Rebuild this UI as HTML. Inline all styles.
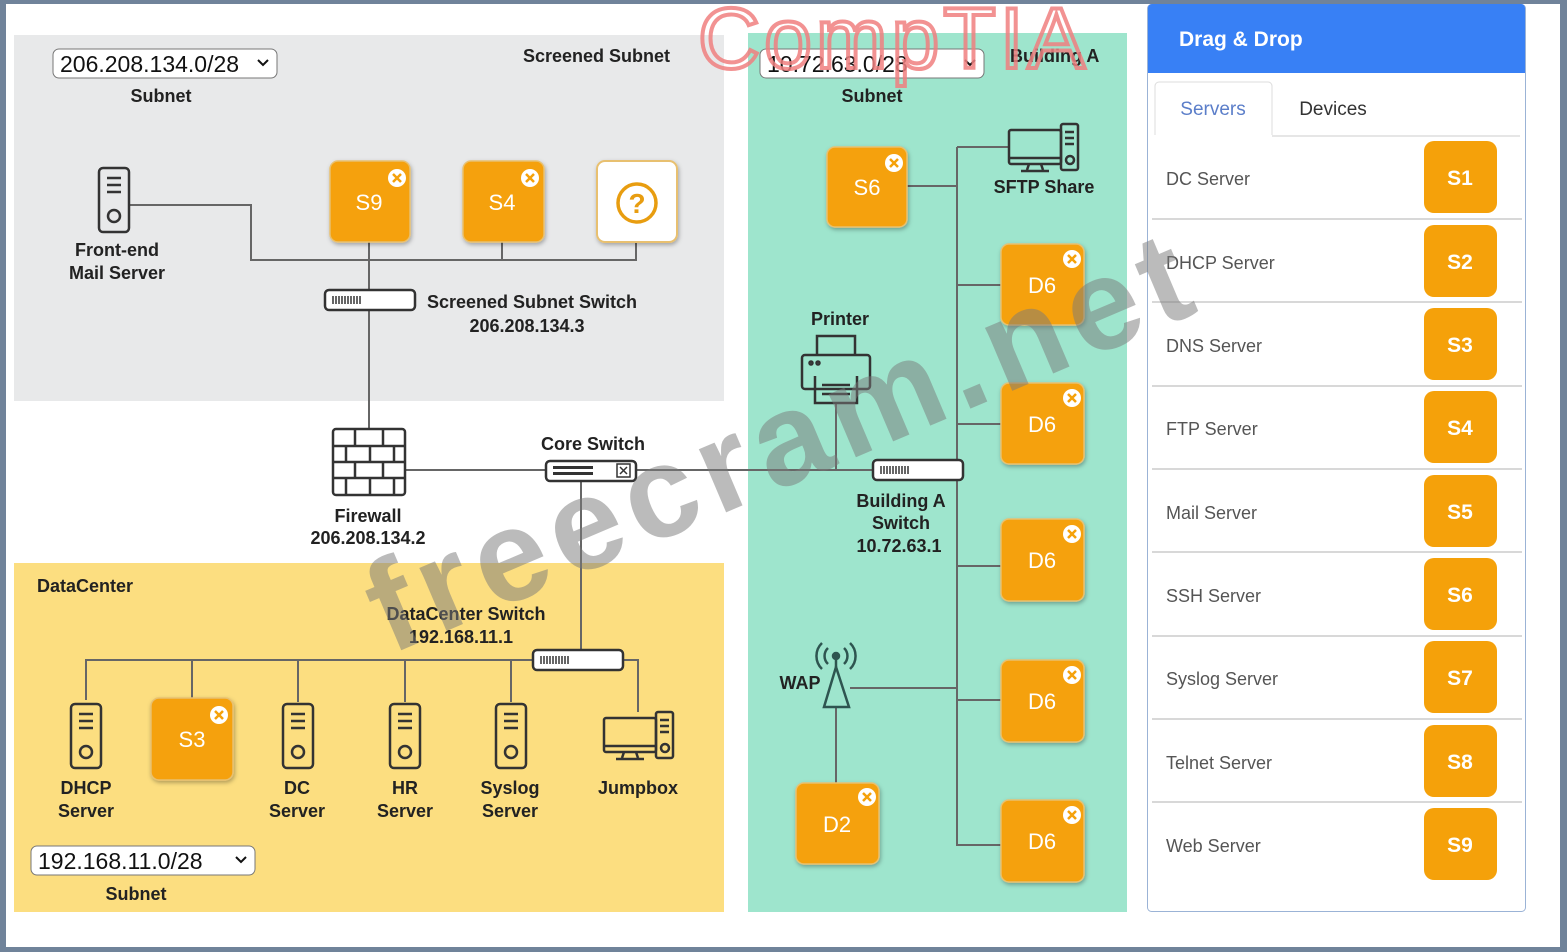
<!DOCTYPE html>
<html><head><meta charset="utf-8"><style>
html,body{margin:0;padding:0;background:#fff}
svg{display:block}
text{font-family:"Liberation Sans",Arial,sans-serif}
.b{font-weight:bold;font-size:18px;fill:#222}
.t{font-size:22px;fill:#fff}
.p{font-size:18px;fill:#555}
</style></head><body>
<svg width="1567" height="952" viewBox="0 0 1567 952" xmlns="http://www.w3.org/2000/svg">
<defs>
<filter id="sh" x="-20%" y="-20%" width="140%" height="140%"><feDropShadow dx="1" dy="2" stdDeviation="2" flood-color="#000" flood-opacity="0.3"/></filter>
<g id="srv" fill="none" stroke="#333" stroke-width="2.5"><rect x="0" y="0" width="30" height="64" rx="4"/><line x1="8" y1="10" x2="22" y2="10"/><line x1="8" y1="17" x2="22" y2="17"/><line x1="8" y1="24" x2="22" y2="24"/><circle cx="15" cy="48" r="6"/></g>
<g id="pc" fill="none" stroke="#333" stroke-width="2.5"><rect x="0" y="6" width="52" height="34" rx="2"/><line x1="0" y1="34" x2="52" y2="34"/><line x1="20" y1="40" x2="18" y2="46"/><line x1="32" y1="40" x2="34" y2="46"/><line x1="12" y1="47" x2="40" y2="47"/><rect x="52" y="0" width="17" height="46" rx="2" fill="inherit"/><line x1="56" y1="8" x2="65" y2="8"/><line x1="56" y1="14" x2="65" y2="14"/><line x1="56" y1="20" x2="65" y2="20"/><circle cx="61" cy="36" r="4"/></g>
<g id="sw"><rect x="0" y="0" width="90" height="20" rx="4" fill="#fff" stroke="#333" stroke-width="2.5"/><g stroke="#333" stroke-width="1.5"><line x1="8" y1="6" x2="8" y2="14"/><line x1="11" y1="6" x2="11" y2="14"/><line x1="14" y1="6" x2="14" y2="14"/><line x1="17" y1="6" x2="17" y2="14"/><line x1="20" y1="6" x2="20" y2="14"/><line x1="23" y1="6" x2="23" y2="14"/><line x1="26" y1="6" x2="26" y2="14"/><line x1="29" y1="6" x2="29" y2="14"/><line x1="32" y1="6" x2="32" y2="14"/><line x1="35" y1="6" x2="35" y2="14"/></g></g>
<g id="x"><circle r="9" fill="#fff"/><path d="M-4,-4L4,4M4,-4L-4,4" stroke="#f5a10a" stroke-width="2.5"/></g>
</defs>
<rect x="0" y="0" width="1567" height="952" fill="#70839a"/>
<rect x="6" y="4" width="1554" height="943" fill="#fff"/>
<rect x="14" y="35" width="710" height="366" fill="#e8e9ea"/>
<rect x="748" y="33" width="379" height="879" fill="#9ee5cd"/>
<rect x="14" y="563" width="710" height="349" fill="#fcde80"/>
<g stroke="#666" stroke-width="2" fill="none">
<path d="M130,205H251V260H636V242"/><path d="M502,242V260"/><path d="M369,242V428"/>
<path d="M405,470H957"/><path d="M581,481V650"/>
<path d="M836,403V470"/>
<path d="M86,700V660H533"/><path d="M192,660V698"/><path d="M298,660V702"/><path d="M405,660V702"/><path d="M511,660V702"/><path d="M624,660H638V712"/>
<path d="M957,147V845H1001"/><path d="M957,147H1008"/><path d="M907,186H957"/><path d="M957,285H1001"/><path d="M957,424H1001"/><path d="M957,566H1001"/><path d="M957,700H1001"/><path d="M850,688H957"/><path d="M836,707V783"/>
</g>
<rect x="53" y="49" width="224" height="29" rx="6" fill="#fff" stroke="#777"/>
<text x="60" y="72" font-size="23" fill="#111">206.208.134.0/28</text><path d="M258,60l5,5l5,-5" stroke="#111" stroke-width="2" fill="none"/>
<rect x="760" y="49" width="224" height="29" rx="6" fill="#fff" stroke="#777"/>
<text x="767" y="72" font-size="23" fill="#111">10.72.63.0/28</text><path d="M965,60l5,5l5,-5" stroke="#111" stroke-width="2" fill="none"/>
<rect x="31" y="846" width="224" height="29" rx="6" fill="#fff" stroke="#777"/>
<text x="38" y="869" font-size="23" fill="#111">192.168.11.0/28</text><path d="M236,857l5,5l5,-5" stroke="#111" stroke-width="2" fill="none"/>
<text class="b" x="161" y="102" text-anchor="middle">Subnet</text>
<text class="b" x="872" y="102" text-anchor="middle">Subnet</text>
<text class="b" x="136" y="900" text-anchor="middle">Subnet</text>
<text class="b" x="523" y="62" font-size="21">Screened Subnet</text>
<text class="b" x="1010" y="62" font-size="21">Building A</text>
<text class="b" x="37" y="592" font-size="20">DataCenter</text>
<text class="b" x="117" y="256" text-anchor="middle">Front-end</text><text class="b" x="117" y="279" text-anchor="middle">Mail Server</text>
<text class="b" x="427" y="308">Screened Subnet Switch</text><text class="b" x="527" y="332" text-anchor="middle">206.208.134.3</text>
<text class="b" x="368" y="522" text-anchor="middle">Firewall</text><text class="b" x="368" y="544" text-anchor="middle">206.208.134.2</text>
<text class="b" x="593" y="450" text-anchor="middle">Core Switch</text>
<text class="b" x="901" y="507" text-anchor="middle">Building A</text><text class="b" x="901" y="529" text-anchor="middle">Switch</text><text class="b" x="899" y="552" text-anchor="middle">10.72.63.1</text>
<text class="b" x="466" y="620" text-anchor="middle">DataCenter Switch</text><text class="b" x="461" y="643" text-anchor="middle">192.168.11.1</text>
<text class="b" x="1044" y="193" text-anchor="middle">SFTP Share</text>
<text class="b" x="840" y="325" text-anchor="middle">Printer</text>
<text class="b" x="800" y="689" text-anchor="middle">WAP</text>
<text class="b" x="86" y="794" text-anchor="middle">DHCP</text><text class="b" x="86" y="817" text-anchor="middle">Server</text>
<text class="b" x="297" y="794" text-anchor="middle">DC</text><text class="b" x="297" y="817" text-anchor="middle">Server</text>
<text class="b" x="405" y="794" text-anchor="middle">HR</text><text class="b" x="405" y="817" text-anchor="middle">Server</text>
<text class="b" x="510" y="794" text-anchor="middle">Syslog</text><text class="b" x="510" y="817" text-anchor="middle">Server</text>
<text class="b" x="638" y="794" text-anchor="middle">Jumpbox</text>
<use href="#srv" x="99" y="168"/>
<use href="#srv" x="71" y="704"/><use href="#srv" x="283" y="704"/><use href="#srv" x="390" y="704"/><use href="#srv" x="496" y="704"/>
<use href="#pc" x="604" y="712" fill="#fcde80"/>
<use href="#pc" x="1009" y="124" fill="#9ee5cd"/>
<use href="#sw" x="325" y="290"/><use href="#sw" x="533" y="650"/><use href="#sw" x="873" y="460"/>
<g><rect x="546" y="461" width="90" height="20" rx="4" fill="#fff" stroke="#333" stroke-width="2.5"/><g fill="#333"><rect x="553" y="466" width="40" height="3"/><rect x="553" y="472" width="40" height="3"/></g><rect x="617" y="464" width="13" height="13" fill="none" stroke="#333" stroke-width="1.5"/><path d="M620,467l7,7M627,467l-7,7" stroke="#333" stroke-width="1.5"/></g>
<g fill="#fff" stroke="#333" stroke-width="2.5"><rect x="333" y="429" width="72" height="66" rx="3"/><path d="M333,446H405M333,462H405M333,478H405M355,429V446M383,429V446M346,446V462M370,446V462M394,446V462M355,462V478M383,462V478M346,478V495M370,478V495M394,478V495" fill="none"/></g>
<g fill="none" stroke="#333" stroke-width="2.5"><rect x="802" y="355" width="68" height="34" rx="3"/><path d="M817,355V336H855V355M815,376V403H857V376M822,385H850M822,394H850"/><circle cx="811" cy="363" r="1.5"/><circle cx="818" cy="363" r="1.5"/></g>
<g fill="none" stroke="#2e5550" stroke-width="2.5"><path d="M836,667L824,707H849Z"/><line x1="836" y1="660" x2="836" y2="667"/><circle cx="836" cy="656" r="3" fill="#2e5550"/><path d="M828,648a11,11 0 0,0 0,16M844,648a11,11 0 0,1 0,16M822,643a18,18 0 0,0 0,26M850,643a18,18 0 0,1 0,26"/></g>
<g filter="url(#sh)" fill="#f5a10a" stroke="#e8c070" stroke-width="1.5">
<rect x="330" y="161" width="80" height="81" rx="8"/><rect x="463" y="161" width="81" height="81" rx="8"/>
<rect x="827" y="147" width="80" height="80" rx="8"/>
<rect x="1001" y="244" width="83" height="81" rx="8"/><rect x="1001" y="383" width="83" height="81" rx="8"/><rect x="1001" y="519" width="83" height="82" rx="8"/><rect x="1001" y="660" width="83" height="82" rx="8"/><rect x="1001" y="800" width="83" height="82" rx="8"/>
<rect x="796" y="783" width="83" height="81" rx="8"/><rect x="151" y="698" width="82" height="82" rx="8"/>
<rect x="597" y="161" width="80" height="81" rx="8" fill="#fff" stroke="#e8c070" stroke-width="2"/>
</g>
<circle cx="637" cy="203" r="19" fill="none" stroke="#e89d10" stroke-width="3.5"/><text x="637" y="213" font-size="28" font-weight="bold" fill="#e89d10" text-anchor="middle">?</text>
<g>
<text class="t" x="369" y="210" text-anchor="middle">S9</text><text class="t" x="502" y="210" text-anchor="middle">S4</text>
<text class="t" x="867" y="195" text-anchor="middle">S6</text>
<text class="t" x="1042" y="293" text-anchor="middle">D6</text><text class="t" x="1042" y="432" text-anchor="middle">D6</text><text class="t" x="1042" y="568" text-anchor="middle">D6</text><text class="t" x="1042" y="709" text-anchor="middle">D6</text><text class="t" x="1042" y="849" text-anchor="middle">D6</text>
<text class="t" x="837" y="832" text-anchor="middle">D2</text><text class="t" x="192" y="747" text-anchor="middle">S3</text>
</g>
<use href="#x" x="397" y="178"/><use href="#x" x="530" y="178"/><use href="#x" x="894" y="163"/>
<use href="#x" x="1072" y="259"/><use href="#x" x="1072" y="398"/><use href="#x" x="1072" y="534"/><use href="#x" x="1072" y="675"/><use href="#x" x="1072" y="815"/>
<use href="#x" x="867" y="797"/><use href="#x" x="219" y="715"/>
<rect x="1147.5" y="4.5" width="378" height="907" rx="4" fill="#fff" stroke="#9bb3d6"/>
<path d="M1148,8a4,4 0 0,1 4,-4H1521a4,4 0 0,1 4,4V73H1148Z" fill="#3880f5"/>
<text x="1179" y="46" font-size="21" font-weight="bold" fill="#fff">Drag &amp; Drop</text>
<path d="M1155,135V86a4,4 0 0,1 4,-4H1268a4,4 0 0,1 4,4V135" fill="#fff" stroke="#ddd"/>
<line x1="1272" y1="136" x2="1520" y2="136" stroke="#ddd" stroke-width="1.5"/>
<text x="1213" y="115" font-size="19" fill="#5b7ec9" text-anchor="middle">Servers</text>
<text x="1333" y="115" font-size="19" fill="#333" text-anchor="middle">Devices</text>
<g stroke="#ccc" stroke-width="1.5">
<line x1="1152" y1="219" x2="1522" y2="219"/><line x1="1152" y1="302" x2="1522" y2="302"/><line x1="1152" y1="386" x2="1522" y2="386"/><line x1="1152" y1="469" x2="1522" y2="469"/><line x1="1152" y1="552" x2="1522" y2="552"/><line x1="1152" y1="636" x2="1522" y2="636"/><line x1="1152" y1="719" x2="1522" y2="719"/><line x1="1152" y1="802" x2="1522" y2="802"/>
</g>
<g fill="#f5a10a">
<rect x="1424" y="141" width="73" height="72" rx="10"/><rect x="1424" y="225" width="73" height="72" rx="10"/><rect x="1424" y="308" width="73" height="72" rx="10"/><rect x="1424" y="391" width="73" height="72" rx="10"/><rect x="1424" y="475" width="73" height="72" rx="10"/><rect x="1424" y="558" width="73" height="72" rx="10"/><rect x="1424" y="641" width="73" height="72" rx="10"/><rect x="1424" y="725" width="73" height="72" rx="10"/><rect x="1424" y="808" width="73" height="72" rx="10"/>
</g>
<g font-size="21" font-weight="bold" fill="#fff" text-anchor="middle">
<text x="1460" y="185">S1</text><text x="1460" y="269">S2</text><text x="1460" y="352">S3</text><text x="1460" y="435">S4</text><text x="1460" y="519">S5</text><text x="1460" y="602">S6</text><text x="1460" y="685">S7</text><text x="1460" y="769">S8</text><text x="1460" y="852">S9</text>
</g>
<g>
<text class="p" x="1166" y="185">DC Server</text><text class="p" x="1166" y="269">DHCP Server</text><text class="p" x="1166" y="352">DNS Server</text><text class="p" x="1166" y="435">FTP Server</text><text class="p" x="1166" y="519">Mail Server</text><text class="p" x="1166" y="602">SSH Server</text><text class="p" x="1166" y="685">Syslog Server</text><text class="p" x="1166" y="769">Telnet Server</text><text class="p" x="1166" y="852">Web Server</text>
</g>
<text x="698" y="68" font-size="86" fill="none" stroke="#f08080" stroke-width="4" opacity="0.85" textLength="387">CompTIA</text>
<text x="0" y="0" font-size="130" font-weight="bold" fill="#7a7a7a" opacity="0.5" transform="translate(390,655) rotate(-23)" textLength="880">freecram.net</text>
</svg>
</body></html>
